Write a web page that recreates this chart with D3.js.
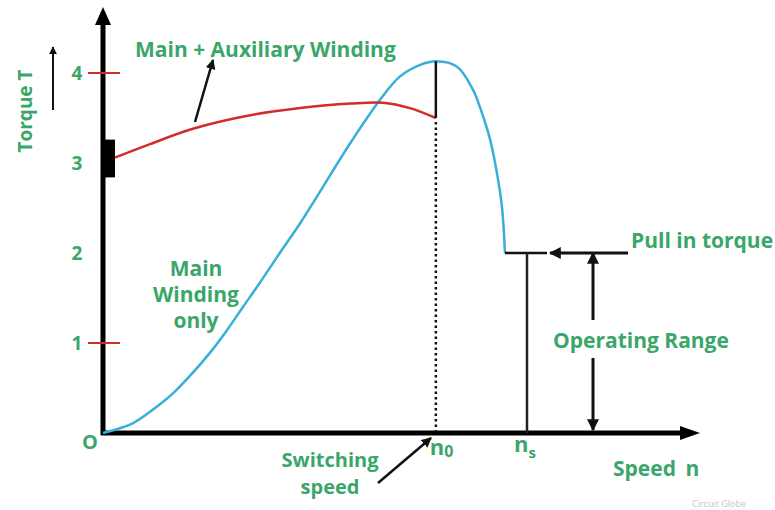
<!DOCTYPE html>
<html>
<head>
<meta charset="utf-8">
<script src="https://cdn.jsdelivr.net/npm/d3@7"></script>
<style>
  body { margin: 0; background: #fff; }
  text { font-family: "Open Sans", Lato, sans-serif; font-weight: bold; fill: #3aa66a; }
</style>
</head>
<body>
<div id="chart"></div>
<script>
// speed in % of synchronous speed, torque in arbitrary units
const mainSpeed  = [0, 2.4, 7.1, 11.8, 16.5, 21.2, 25.2, 29.2, 33.0, 37.0, 41.7, 46.5, 50.5, 58.3, 65.3, 70.0, 74.8, 78.5, 83.5, 87.3, 88.9, 91.3, 92.9, 94.1, 94.8];
const mainTorque = [0, 0.03, 0.11, 0.26, 0.44, 0.67, 0.89, 1.14, 1.40, 1.67, 2.00, 2.33, 2.63, 3.22, 3.70, 3.96, 4.09, 4.13, 4.07, 3.81, 3.62, 3.26, 2.89, 2.51, 2.0];
const auxSpeed  = [2.8, 11.1, 21.2, 34.7, 46.5, 58.3, 66.0, 72.4, 78.5];
const auxTorque = [3.06, 3.21, 3.38, 3.53, 3.61, 3.66, 3.67, 3.61, 3.50];
const yTicks = [1, 2, 3, 4];
const redTicks = [1, 4];
const switchSpeed = 78.5;   // n0
const syncSpeed = 100;      // ns
const pullInTorque = 2;

const width = 775, height = 510;
const svg = d3.select("#chart").append("svg")
  .attr("width", width)
  .attr("height", height);

// Scales
const x = d3.scaleLinear().domain([0, 100]).range([103, 527]);
const y = d3.scaleLinear().domain([0, 4]).range([433, 73]);

// arrow head
svg.append("defs").append("marker")
  .attr("id", "head")
  .attr("viewBox", "0 0 10 10")
  .attr("refX", 9).attr("refY", 5)
  .attr("markerWidth", 4).attr("markerHeight", 4)
  .attr("orient", "auto-start-reverse")
  .append("path").attr("d", "M0,0L10,5L0,10z").attr("fill", "#111");

// Axes
const x0 = x(0), yBase = y(0);
svg.append("line")
  .attr("x1", x0).attr("y1", yBase + 2).attr("x2", x0).attr("y2", 22)
  .attr("stroke", "#000").attr("stroke-width", 5);
svg.append("path")
  .attr("d", `M${x0 - 8},25L${x0},7L${x0 + 8},25z`).attr("fill", "#000");
svg.append("line")
  .attr("x1", x0 - 2).attr("y1", yBase).attr("x2", 682).attr("y2", yBase)
  .attr("stroke", "#000").attr("stroke-width", 5);
svg.append("path")
  .attr("d", `M680,${yBase - 7}L700,${yBase}L680,${yBase + 7}z`).attr("fill", "#000");

// y tick marks and labels
svg.selectAll(".rtick").data(redTicks).join("line")
  .attr("x1", x0 - 15).attr("x2", x0 + 17)
  .attr("y1", d => y(d)).attr("y2", d => y(d))
  .attr("stroke", "#d42b2b").attr("stroke-width", 2);
svg.selectAll(".ylab").data(yTicks).join("text")
  .attr("x", 77).attr("y", d => y(d) + 7)
  .attr("text-anchor", "middle")
  .attr("font-size", 19)
  .text(d => d);

// block on axis at starting torque
svg.append("rect")
  .attr("x", x0).attr("y", y(3.26)).attr("width", 12).attr("height", y(2.84) - y(3.26))
  .attr("fill", "#000");

const line = d3.line().x(d => x(d[0])).y(d => y(d[1])).curve(d3.curveCatmullRom.alpha(0.5));

// Main winding only
svg.append("path")
  .datum(d3.zip(mainSpeed, mainTorque))
  .attr("d", line)
  .attr("fill", "none").attr("stroke", "#38aedb").attr("stroke-width", 2.5);

// Main + auxiliary
svg.append("path")
  .datum(d3.zip(auxSpeed, auxTorque))
  .attr("d", line)
  .attr("fill", "none").attr("stroke", "#d42b2b").attr("stroke-width", 2.5);

// switching jump and dotted drop
svg.append("line")
  .attr("x1", x(switchSpeed)).attr("x2", x(switchSpeed))
  .attr("y1", y(d3.max(mainTorque))).attr("y2", y(auxTorque[auxTorque.length - 1]))
  .attr("stroke", "#111").attr("stroke-width", 2.5);
svg.append("line")
  .attr("x1", x(switchSpeed)).attr("x2", x(switchSpeed))
  .attr("y1", y(auxTorque[auxTorque.length - 1]) + 4).attr("y2", yBase)
  .attr("stroke", "#111").attr("stroke-width", 2.5).attr("stroke-dasharray", "2.5,3");

// pull in torque level and ns line
svg.append("line")
  .attr("x1", x(mainSpeed[mainSpeed.length - 1])).attr("x2", x(syncSpeed) + 20)
  .attr("y1", y(pullInTorque)).attr("y2", y(pullInTorque))
  .attr("stroke", "#111").attr("stroke-width", 2.5);
svg.append("line")
  .attr("x1", x(syncSpeed)).attr("x2", x(syncSpeed))
  .attr("y1", y(pullInTorque)).attr("y2", yBase)
  .attr("stroke", "#222").attr("stroke-width", 2.5);

// annotation arrows
function arrow(x1, y1, x2, y2, w) {
  svg.append("line")
    .attr("x1", x1).attr("y1", y1).attr("x2", x2).attr("y2", y2)
    .attr("stroke", "#111").attr("stroke-width", w)
    .attr("marker-end", "url(#head)");
}
arrow(195, 122, 213, 60, 2.5);
arrow(378, 483, 431, 438, 2.5);
arrow(628, y(pullInTorque), 550, y(pullInTorque), 3);
arrow(593, 320, 593, y(pullInTorque), 3);
arrow(593, 358, 593, yBase - 3, 3);
arrow(53, 110, 53, 47, 2);

// texts
svg.append("text").attr("x", 135).attr("y", 57).attr("font-size", 21).text("Main + Auxiliary Winding");
svg.append("text").attr("transform", "translate(32,111) rotate(-90)")
  .attr("text-anchor", "middle").attr("font-size", 19).text("Torque T");

const mw = svg.append("text").attr("text-anchor", "middle").attr("font-size", 21);
mw.append("tspan").attr("x", 196).attr("y", 276).text("Main");
mw.append("tspan").attr("x", 196).attr("y", 302).text("Winding");
mw.append("tspan").attr("x", 196).attr("y", 328).text("only");

svg.append("text").attr("x", 90).attr("y", 449).attr("text-anchor", "middle").attr("font-size", 20).text("O");

const n0 = svg.append("text").attr("x", x(switchSpeed) - 6).attr("y", 455).attr("font-size", 22);
n0.append("tspan").text("n");
n0.append("tspan").attr("font-size", 16).attr("dy", 2).text("0");

const ns = svg.append("text").attr("x", x(syncSpeed) - 13).attr("y", 452).attr("font-size", 22);
ns.append("tspan").text("n");
ns.append("tspan").attr("font-size", 15).attr("dy", 6).text("s");

svg.append("text").attr("x", 330).attr("y", 467).attr("text-anchor", "middle").attr("font-size", 20).text("Switching");
svg.append("text").attr("x", 330).attr("y", 494).attr("text-anchor", "middle").attr("font-size", 20).text("speed");

svg.append("text").attr("x", 631).attr("y", 248).attr("font-size", 21).text("Pull in torque");
svg.append("text").attr("x", 553).attr("y", 348).attr("font-size", 21).text("Operating Range");
svg.append("text").attr("x", 613).attr("y", 476).attr("font-size", 21).attr("word-spacing", 4).text("Speed n");
svg.append("text").attr("x", 692).attr("y", 507).attr("font-size", 9)
  .style("fill", "#c4c4c4").style("font-weight", "normal").text("Circuit Globe");
</script>
</body>
</html>
